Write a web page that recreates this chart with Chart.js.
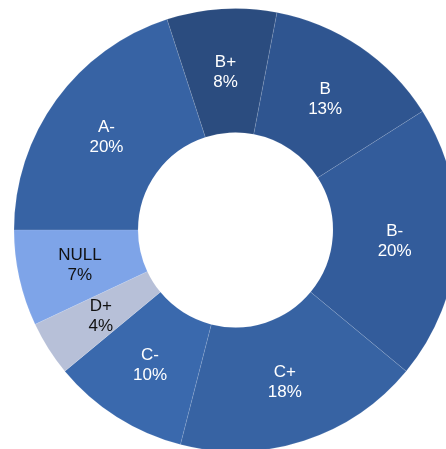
<!DOCTYPE html>
<html>
<head>
<meta charset="utf-8">
<script src="https://cdn.jsdelivr.net/npm/chart.js@4/dist/chart.umd.min.js"></script>
<style>
  html,body{margin:0;padding:0;background:#fff;overflow:hidden;}
  #wrap{position:relative;width:446px;height:449px;}
</style>
</head>
<body>
<div id="wrap"><canvas id="gradeChart"></canvas></div>
<script>
// dữ liệu
const grades=["A-","B+","B","B-","C+","C-","D+","NULL"];
const shares=[20,8,13,20,18,10,4,7];
const sliceColors=["#3763a4","#2b4c7f","#2f5590","#335c9b","#3763a3","#3a69ad","#b7c0d8","#7ea4e8"];
const labelColors=["#fff","#fff","#fff","#fff","#fff","#fff","#111","#111"];

// vẽ nhãn giữa mỗi lát
const sliceLabels={
  id:"sliceLabels",
  afterDatasetsDraw(chart){
    const ctx=chart.ctx, meta=chart.getDatasetMeta(0);
    ctx.save();
    ctx.font='17px "Liberation Sans", Arial, sans-serif';
    ctx.textAlign="center"; ctx.textBaseline="middle";
    meta.data.forEach((arc,i)=>{
      const p=arc.getCenterPoint();
      ctx.fillStyle=labelColors[i];
      ctx.fillText(grades[i],p.x,p.y-9);
      ctx.fillText(shares[i]+"%",p.x,p.y+11);
    });
    ctx.restore();
  }
};

new Chart(document.getElementById("gradeChart").getContext("2d"),{
  type:"doughnut",
  data:{labels:grades,datasets:[{data:shares,backgroundColor:sliceColors,borderColor:"rgba(255,255,255,0.18)",borderWidth:0.6,clip:false}]},
  options:{
    responsive:true,maintainAspectRatio:false,animation:false,
    rotation:-90,radius:221.5,cutout:"44%",
    layout:{padding:{left:25,top:11,right:0,bottom:0}},
    plugins:{legend:{display:false},tooltip:{enabled:false}}
  },
  plugins:[sliceLabels]
});
</script>
</body>
</html>
